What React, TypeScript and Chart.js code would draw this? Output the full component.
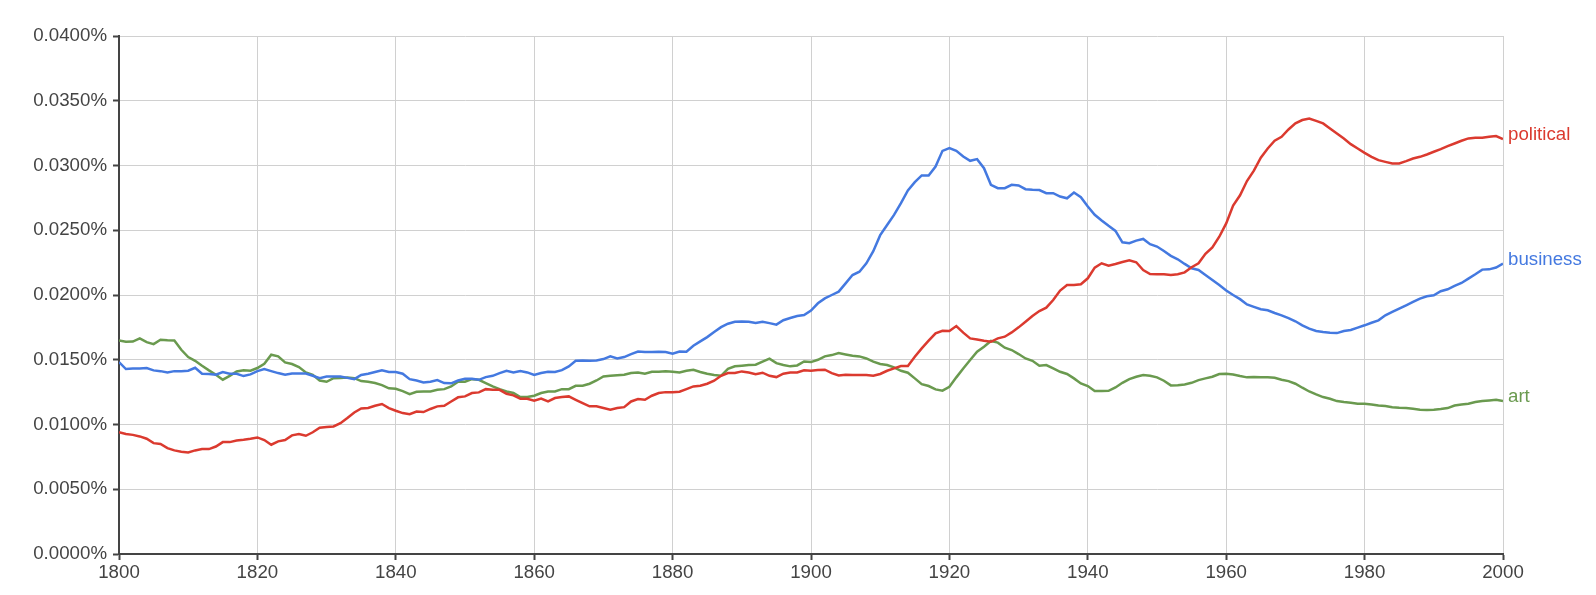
import React, { useEffect, useRef } from "react";
import { Chart, registerables } from "chart.js";

Chart.register(...registerables);

const startYear = 1800;
const endYear = 2000;

const seriesNames = ["political", "business", "art"];
const seriesColors = ["#db3a2f", "#4479e0", "#6a9a4f"];

const political = [
  0.0094, 0.00926, 0.0092, 0.00908, 0.0089, 0.00856, 0.0085, 0.00818, 0.008, 0.0079,
  0.00784, 0.008, 0.0081, 0.0081, 0.0083, 0.00864, 0.00864, 0.00877, 0.00882, 0.0089,
  0.009, 0.0088, 0.00844, 0.0087, 0.0088, 0.00916, 0.00926, 0.00913, 0.0094, 0.00975,
  0.0098, 0.00985, 0.0101, 0.0105, 0.01093, 0.01124, 0.01127, 0.01145, 0.01158, 0.01127,
  0.01106, 0.01088, 0.0108, 0.011, 0.01096, 0.0112, 0.0114, 0.01145, 0.01178, 0.0121,
  0.01217, 0.01243, 0.01248, 0.01273, 0.01268, 0.01268, 0.01237, 0.01225, 0.01199, 0.01199,
  0.01183, 0.012, 0.01178, 0.01204, 0.01212, 0.01217, 0.01191, 0.01165, 0.0114, 0.0114,
  0.01127, 0.01114, 0.01127, 0.01134, 0.01178, 0.01196, 0.01191, 0.01222, 0.01243, 0.0125,
  0.0125, 0.01253, 0.01273, 0.01294, 0.01299, 0.01315, 0.01338, 0.01376, 0.01397, 0.01397,
  0.0141, 0.01402, 0.01389, 0.014, 0.01376, 0.01366, 0.01392, 0.01402, 0.01402, 0.01418,
  0.01415, 0.0142, 0.01423, 0.01397, 0.01379, 0.01384, 0.01382, 0.01382, 0.01382, 0.01376,
  0.0139, 0.01415, 0.01433, 0.01451, 0.01451, 0.01523, 0.01588, 0.01647, 0.01704, 0.01724,
  0.01722, 0.0176, 0.01709, 0.01665, 0.01657, 0.01647, 0.01639, 0.01665, 0.01678, 0.01711,
  0.0175, 0.01794, 0.01838, 0.01876, 0.01902, 0.01961, 0.02034, 0.02077, 0.02077, 0.02083,
  0.02129, 0.02211, 0.02245, 0.02227, 0.0224, 0.02255, 0.02268, 0.02253, 0.02193, 0.02162,
  0.0216, 0.0216, 0.02155, 0.0216, 0.02175, 0.02214, 0.02245, 0.02318, 0.02368, 0.0245,
  0.02553, 0.0269, 0.0277, 0.0288, 0.0296, 0.0306, 0.03131, 0.03191, 0.03222, 0.03278,
  0.03325, 0.03351, 0.03363, 0.03345, 0.03325, 0.03286, 0.03247, 0.03209, 0.03165, 0.03131,
  0.03098, 0.03067, 0.03041, 0.03028, 0.03016, 0.03016, 0.03034, 0.03054, 0.03067, 0.03085,
  0.03106, 0.03126, 0.0315, 0.0317, 0.03191, 0.03209, 0.03214, 0.03214, 0.03222, 0.03227,
  0.03204,
];

const business = [
  0.01482, 0.01428, 0.01433, 0.01433, 0.01436, 0.01418, 0.01412, 0.01402, 0.01412, 0.01412,
  0.01415, 0.01438, 0.01392, 0.0139, 0.01384, 0.01405, 0.01392, 0.01392, 0.01374, 0.01387,
  0.01412, 0.01428, 0.01412, 0.01397, 0.01384, 0.01394, 0.01394, 0.01394, 0.01376, 0.01358,
  0.01371, 0.01371, 0.01371, 0.0136, 0.0135, 0.01382, 0.01392, 0.01405, 0.01418, 0.01405,
  0.01405, 0.01392, 0.0135, 0.0134, 0.01325, 0.0133, 0.01343, 0.0132, 0.01318, 0.0134,
  0.01353, 0.01353, 0.01345, 0.01366, 0.01376, 0.01397, 0.01415, 0.01402, 0.01412, 0.01402,
  0.01382, 0.01397, 0.01407, 0.01405, 0.0142, 0.01449, 0.01492, 0.01495, 0.01492, 0.01495,
  0.01505, 0.01526, 0.0151, 0.01521, 0.01544, 0.01564, 0.01559, 0.01559, 0.01562, 0.01559,
  0.01546, 0.01564, 0.01562, 0.01608, 0.01642, 0.01675, 0.01714, 0.01752, 0.01778, 0.01793,
  0.01796, 0.01793, 0.01783, 0.01793, 0.01783, 0.01771, 0.01805, 0.01822, 0.01838, 0.01845,
  0.0188, 0.01936, 0.01974, 0.02, 0.02026, 0.0209, 0.02154, 0.0218, 0.02244, 0.02338,
  0.02462, 0.02541, 0.02619, 0.02709, 0.02807, 0.02871, 0.02923, 0.02923, 0.02992, 0.03113,
  0.03134, 0.03113, 0.0307, 0.03036, 0.03049, 0.02979, 0.02851, 0.02825, 0.02825, 0.02851,
  0.02846, 0.02817, 0.02812, 0.0281, 0.02786, 0.02786, 0.0276, 0.02747, 0.02791, 0.02755,
  0.02683, 0.02619, 0.02575, 0.02534, 0.02495, 0.02407, 0.024, 0.0242, 0.02433, 0.02392,
  0.02374, 0.0234, 0.02302, 0.02276, 0.0224, 0.02206, 0.02193, 0.02155, 0.02116, 0.02077,
  0.02035, 0.02, 0.01968, 0.01927, 0.01908, 0.0189, 0.01882, 0.01861, 0.01843, 0.01822,
  0.01797, 0.01766, 0.0174, 0.01722, 0.01714, 0.01709, 0.01706, 0.01722, 0.0173, 0.01748,
  0.01766, 0.01786, 0.01804, 0.01843, 0.01869, 0.01895, 0.0192, 0.01946, 0.01972, 0.0199,
  0.01998, 0.02029, 0.02044, 0.0207, 0.02093, 0.02126, 0.0216, 0.02196, 0.02198, 0.02212,
  0.02242,
];

const art = [
  0.01649, 0.01639, 0.0164, 0.01665, 0.01636, 0.01621, 0.01654, 0.0165, 0.01649, 0.01577,
  0.01521, 0.01492, 0.01454, 0.01418, 0.01384, 0.01346, 0.01376, 0.0141, 0.01418, 0.01415,
  0.01436, 0.01469, 0.01539, 0.01526, 0.01479, 0.01467, 0.01443, 0.01402, 0.01384, 0.0134,
  0.0133, 0.01358, 0.0136, 0.01363, 0.01358, 0.01335, 0.0133, 0.0132, 0.01304, 0.01279,
  0.01276, 0.01258, 0.01235, 0.01253, 0.01255, 0.01255, 0.01268, 0.01273, 0.01294, 0.0133,
  0.0133, 0.0135, 0.01345, 0.0132, 0.01294, 0.01273, 0.01255, 0.01243, 0.01212, 0.01212,
  0.01222, 0.01243, 0.01255, 0.01255, 0.01273, 0.01273, 0.01299, 0.01299, 0.01315, 0.0134,
  0.01371, 0.01376, 0.0138, 0.01384, 0.01397, 0.01402, 0.01392, 0.01407, 0.01407, 0.01412,
  0.01407, 0.01402, 0.01415, 0.01423, 0.01405, 0.01392, 0.01382, 0.01376, 0.0143, 0.01449,
  0.01454, 0.01459, 0.01462, 0.01485, 0.01508, 0.01474, 0.01459, 0.01449, 0.01456, 0.01487,
  0.01482, 0.015, 0.01526, 0.01536, 0.01551, 0.01541, 0.01531, 0.01526, 0.0151, 0.01485,
  0.01467, 0.01459, 0.01441, 0.01415, 0.014, 0.01356, 0.01312, 0.01297, 0.01271, 0.01261,
  0.01291, 0.01364, 0.01433, 0.01498, 0.01562, 0.01601, 0.01645, 0.01632, 0.01593, 0.01575,
  0.01544, 0.0151, 0.01492, 0.01454, 0.01459, 0.01433, 0.01407, 0.0139, 0.01356, 0.01317,
  0.01297, 0.01258, 0.01258, 0.0126, 0.01286, 0.01322, 0.01351, 0.01369, 0.01382, 0.01377,
  0.01364, 0.01338, 0.01302, 0.01304, 0.01309, 0.01322, 0.01343, 0.01356, 0.01369, 0.0139,
  0.01392, 0.01386, 0.01374, 0.01364, 0.01366, 0.01364, 0.01364, 0.01361, 0.01346, 0.01335,
  0.01315, 0.01284, 0.01255, 0.01232, 0.01212, 0.01199, 0.01181, 0.01173, 0.01168, 0.0116,
  0.0116, 0.01155, 0.01147, 0.01142, 0.01134, 0.01129, 0.01127, 0.01121, 0.01114, 0.01112,
  0.01114, 0.01119, 0.01127, 0.01147, 0.01155, 0.0116, 0.01173, 0.01181, 0.01186, 0.01191,
  0.01181,
];

const seriesValues = [political, business, art];

const yTickStep = 0.005;
const yMax = 0.04;
const xTickStep = 20;

const FONT = "'Liberation Sans', Arial, sans-serif";
const FONT_SIZE = 18.7;

const endLabelsPlugin = {
  id: "endLabels",
  afterDatasetsDraw(chart: any) {
    const { ctx, chartArea } = chart;
    ctx.save();
    ctx.font = `${FONT_SIZE}px ${FONT}`;
    ctx.textAlign = "left";
    ctx.textBaseline = "middle";
    chart.data.datasets.forEach((ds: any, i: number) => {
      const meta = chart.getDatasetMeta(i);
      const last = meta.data[meta.data.length - 1];
      if (!last) return;
      ctx.fillStyle = ds.borderColor;
      ctx.fillText(ds.label, chartArea.right + 5, last.y - 4);
    });
    ctx.restore();
  },
};

export default function App() {
  const canvasRef = useRef<HTMLCanvasElement | null>(null);

  useEffect(() => {
    const canvas = canvasRef.current;
    if (!canvas) return;
    const datasets = seriesNames.map((name, i) => ({
      label: name,
      data: seriesValues[i].map((v, k) => ({ x: startYear + k, y: v })),
      borderColor: seriesColors[i],
      backgroundColor: seriesColors[i],
      borderWidth: 2.5,
      pointRadius: 0,
      tension: 0,
      fill: false,
    }));

    const chart = new Chart(canvas, {
      type: "line",
      data: { datasets },
      plugins: [endLabelsPlugin],
      options: {
        animation: false,
        responsive: false,
        maintainAspectRatio: false,
        layout: { padding: { left: 0, right: 93, top: 36, bottom: 0 } },
        plugins: {
          legend: { display: false },
          tooltip: { enabled: false },
        },
        scales: {
          x: {
            type: "linear",
            min: startYear,
            max: endYear,
            afterFit: (scale: any) => {
              scale.height = 41;
            },
            ticks: {
              stepSize: xTickStep,
              color: "#444",
              font: { family: FONT, size: FONT_SIZE },
              padding: 2,
              maxRotation: 0,
              callback: (v: any) => String(v),
            },
            grid: {
              color: "#d0d0d0",
              lineWidth: 1,
              tickColor: "#444",
              tickLength: 6,
              tickWidth: 2,
            },
            border: { display: true, color: "#444", width: 2 },
          },
          y: {
            type: "linear",
            min: 0,
            max: yMax,
            afterFit: (scale: any) => {
              scale.width = 119;
            },
            ticks: {
              stepSize: yTickStep,
              color: "#444",
              font: { family: FONT, size: FONT_SIZE },
              padding: 6,
              callback: (v: any) => Number(v).toFixed(4) + "%",
            },
            grid: {
              color: "#d0d0d0",
              lineWidth: 1,
              tickColor: "#444",
              tickLength: 6,
              tickWidth: 2,
            },
            border: { display: true, color: "#444", width: 2 },
          },
        },
      },
    });
    return () => chart.destroy();
  }, []);

  return (
    <div style={{ position: "fixed", left: 0, top: 0, width: 1596, height: 595, background: "#fff" }}>
      <canvas ref={canvasRef} width={1596} height={595} style={{ width: 1596, height: 595 }} />
    </div>
  );
}
